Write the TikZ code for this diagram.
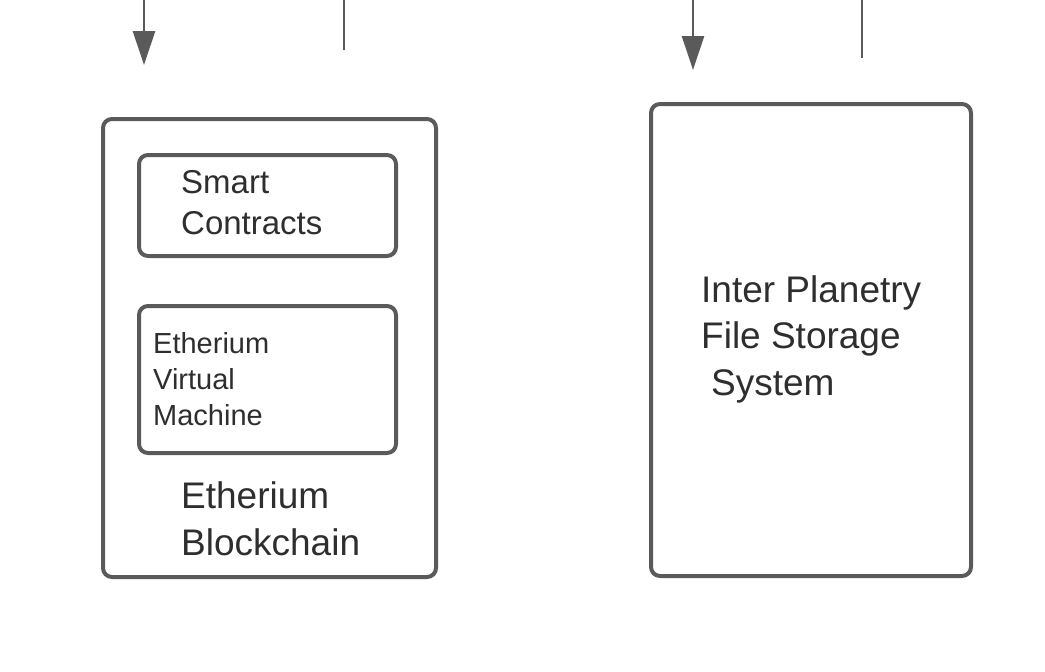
\documentclass[tikz,border=0pt]{standalone}
\usepackage{fontspec}
\setmainfont{Liberation Sans}
\usetikzlibrary{arrows.meta}
\usetikzlibrary{positioning}
\definecolor{linegray}{HTML}{5A5A5A}
\definecolor{textgray}{HTML}{2E2E2E}

\begin{document}
\begin{tikzpicture}[x=1pt,y=-1pt,
		box/.style={draw=linegray, line width=4pt, rounded corners=9pt, anchor=north west, inner sep=0pt, outer sep=0pt},
		label/.style={anchor=base west, align=left, inner sep=0pt, text=textgray},
		conn/.style={draw=linegray, line width=2.6pt},
		tip/.style={-{Triangle[length=34pt,width=22pt]}}
	]
	\useasboundingbox (0,0) rectangle (1045,672);
	
	% blockchain side
	\node[box, minimum width=333pt, minimum height=458pt] (chain) at (103,119) {};
	\node[box, minimum width=257pt, minimum height=101pt] (contracts) at (139,155) {};
	\node[box, minimum width=257pt, minimum height=147pt] (evm) at (139,306) {};
	
	% (base is the last line)
	\node[label, font={\fontsize{33}{41}\selectfont}] (contracts-text) at (181,234) {Smart\\Contracts};
	\node[label, font={\fontsize{29}{36}\selectfont}] (evm-text) at (153,425) {Etherium\\Virtual\\Machine};
	\node[label, font={\fontsize{37}{47}\selectfont}] (chain-text) at (181,555) {Etherium\\Blockchain};
	
	% storage side
	\node[box, minimum width=320pt, minimum height=472pt] (ipfs) at (651,104) {};
	\node[label, font={\fontsize{37}{46.5}\selectfont}] (ipfs-text) at (701,395) {Inter Planetry\\File Storage\\\hspace*{10pt}System};
	
	% connectors coming in from above
	\coordinate (chain-in-top) at (144,-5);
	\coordinate (chain-in-end) at (144,65);
	\coordinate (chain-out-top) at (344,-5);
	\coordinate (chain-out-end) at (344,50);
	\coordinate (ipfs-in-top) at (693,-5);
	\coordinate (ipfs-in-end) at (693,70);
	\coordinate (ipfs-out-top) at (862,-5);
	\coordinate (ipfs-out-end) at (862,58);
	
	\draw[conn, tip] (chain-in-top) -- (chain-in-end);
	\draw[conn] (chain-out-top) -- (chain-out-end);
	\draw[conn, tip] (ipfs-in-top) -- (ipfs-in-end);
	\draw[conn] (ipfs-out-top) -- (ipfs-out-end);
\end{tikzpicture}
\end{document}
